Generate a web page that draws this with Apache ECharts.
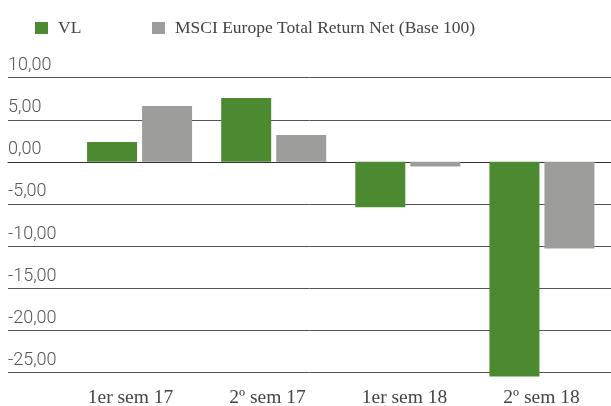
<!DOCTYPE html>
<html>
<head>
<meta charset="utf-8">
<script src="https://cdn.jsdelivr.net/npm/echarts@6/dist/echarts.min.js"></script>
<style>
  html, body { margin: 0; padding: 0; background: #fff; }
  #chart { width: 611px; height: 406px; }
</style>
</head>
<body>
<div id="chart"></div>
<script>
var categories = ['1er sem 17', '2º sem 17', '1er sem 18', '2º sem 18'];
var vlValues = [2.37, 7.6, -5.4, -25.5];
var msciValues = [6.65, 3.2, -0.55, -10.3];
var seriesNames = ['VL', 'MSCI Europe Total Return Net (Base 100)'];

var green = '#4c8a31';
var grey = '#9d9d9c';
var serif = '"Liberation Serif", "DejaVu Serif", serif';

var fmt = function(v) {
	return v.toFixed(2).replace('.', ',');
};

var chart = echarts.init(document.getElementById('chart'));

//grid 0: 刻度线和y标签; grid 1: 柱子; grid 2: x轴标签 (原图标签间距和柱子略有不同)
var option = {
	animation: false,
	legend: [{
		left: 30, top: 14,
		itemWidth: 13, itemHeight: 12,
		icon: 'rect',
		data: [seriesNames[0]],
		textStyle: { fontFamily: serif, fontSize: 17.5, color: '#444', padding: [0, 0, 0, 5] }
	}, {
		left: 147, top: 14,
		itemWidth: 13, itemHeight: 12,
		icon: 'rect',
		data: [seriesNames[1]],
		textStyle: { fontFamily: serif, fontSize: 17.5, color: '#444', padding: [0, 0, 0, 5] }
	}],
	grid: [
		{ left: 8, right: 0, top: 77.7, bottom: 33.7, outerBoundsMode: 'none' },
		{ left: 72.5, right: 2, top: 77.7, bottom: 33.7, outerBoundsMode: 'none' },
		{ left: 62, right: 1, top: 77.7, bottom: 33.7, outerBoundsMode: 'none' }
	],
	xAxis: [{
		gridIndex: 0,
		type: 'value',
		min: 0, max: 1,
		axisLabel: { show: false },
		axisTick: { show: false },
		splitLine: { show: false },
		axisLine: { show: true, onZero: true, lineStyle: { color: '#333', width: 1 } }
	}, {
		gridIndex: 1,
		type: 'category',
		data: categories,
		axisLine: { show: false },
		axisTick: { show: false },
		axisLabel: { show: false }
	}, {
		gridIndex: 2,
		type: 'category',
		data: categories,
		axisLine: { show: false },
		axisTick: { show: false },
		axisLabel: { margin: 16, fontFamily: serif, fontSize: 19.5, color: '#444' }
	}],
	yAxis: [{
		gridIndex: 0,
		type: 'value',
		min: -25, max: 10, interval: 5,
		axisLine: { show: false },
		axisTick: { show: false },
		splitLine: { show: true, lineStyle: { color: '#555', width: 1 } },
		axisLabel: {
			inside: true,
			margin: 0,
			align: 'left',
			verticalAlign: 'bottom',
			padding: [0, 0, 3, 0],
			fontFamily: 'Roboto, sans-serif',
			fontWeight: 300,
			fontSize: 18,
			color: '#555',
			formatter: fmt
		}
	}, {
		gridIndex: 1,
		type: 'value',
		min: -25, max: 10, interval: 5,
		show: false,
		splitLine: { show: false }
	}, {
		gridIndex: 2,
		type: 'value',
		min: -25, max: 10, interval: 5,
		show: false,
		splitLine: { show: false }
	}],
	series: [{
		name: seriesNames[0],
		type: 'bar',
		xAxisIndex: 1, yAxisIndex: 1,
		data: vlValues,
		barWidth: 50,
		barGap: '10%',
		clip: false,
		itemStyle: { color: green }
	}, {
		name: seriesNames[1],
		type: 'bar',
		xAxisIndex: 1, yAxisIndex: 1,
		data: msciValues,
		barWidth: 50,
		barGap: '10%',
		clip: false,
		itemStyle: { color: grey }
	}]
};

chart.setOption(option);
</script>
</body>
</html>
